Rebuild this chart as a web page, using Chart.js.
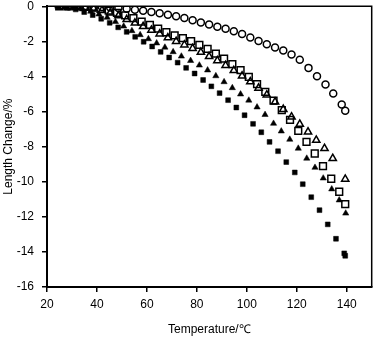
<!DOCTYPE html>
<html lang="en">
<head>
  <meta charset="UTF-8">
  <title>Length Change vs Temperature</title>
  <script src="https://cdn.jsdelivr.net/npm/chart.js@4/dist/chart.umd.min.js"></script>
  <style>
    body {
      margin: 0;
      padding: 0;
      background-color: #ffffff;
    }

    #chartBox {
      position: relative;
      width: 378px;
      height: 338px;
    }
  </style>
</head>
<body>
  <div id="chartBox">
    <canvas id="lengthChart"></canvas>
  </div>

  <script>
    // axis ticks
    const xTicks = [20, 40, 60, 80, 100, 120, 140];
    const yTicks = [0, -2, -4, -6, -8, -10, -12, -14, -16];

    // filled squares
    const sqFilledT = [24.7, 28.1, 31.5, 34.9, 38.3, 41.7, 45.1, 48.5, 51.9, 55.3, 58.7, 62.1, 65.5, 68.9, 72.3, 75.7, 79.1, 82.5, 85.8, 89.1, 92.5, 95.8, 99.1, 102.5, 105.8, 109.1, 112.5, 115.8, 119.2, 122.4, 125.8, 129.1, 132.4, 135.7, 139.0, 139.4];
    const sqFilledY = [0, -0.08, -0.18, -0.33, -0.5, -0.71, -0.94, -1.2, -1.46, -1.74, -2.02, -2.29, -2.6, -2.92, -3.21, -3.51, -3.83, -4.2, -4.56, -4.95, -5.35, -5.77, -6.21, -6.7, -7.18, -7.73, -8.26, -8.88, -9.47, -10.14, -10.88, -11.62, -12.43, -13.25, -14.08, -14.22];

    // filled triangles
    const triFilledT = [24.3, 27.6, 30.9, 34.2, 37.5, 40.8, 44.1, 47.4, 50.7, 54.0, 57.3, 60.6, 63.9, 67.2, 70.5, 73.8, 77.5, 81.0, 84.3, 87.6, 90.9, 94.2, 97.5, 100.8, 104.1, 107.3, 110.7, 113.8, 117.2, 120.6, 124.0, 127.3, 130.6, 134.0, 137.0, 139.6];
    const triFilledY = [0, -0.02, -0.07, -0.16, -0.29, -0.45, -0.64, -0.88, -1.14, -1.4, -1.63, -1.86, -2.1, -2.34, -2.6, -2.85, -3.1, -3.36, -3.64, -3.97, -4.31, -4.65, -5.01, -5.36, -5.75, -6.18, -6.68, -7.12, -7.59, -8.1, -8.67, -9.19, -9.8, -10.42, -11.05, -11.8];

    // open squares
    const sqOpenT = [24.9, 28.2, 31.5, 34.8, 38.1, 41.4, 44.7, 48.0, 51.3, 54.6, 57.9, 61.2, 64.5, 67.8, 71.1, 74.4, 77.7, 81.0, 84.3, 87.6, 90.9, 94.2, 97.5, 100.8, 104.1, 107.4, 110.7, 114.0, 117.3, 120.6, 123.9, 127.2, 130.5, 133.8, 137.0, 139.4];
    const sqOpenY = [0, 0, 0, -0.03, -0.08, -0.15, -0.25, -0.38, -0.52, -0.68, -0.87, -1.06, -1.27, -1.48, -1.66, -1.82, -1.98, -2.2, -2.43, -2.7, -2.98, -3.3, -3.64, -4.02, -4.44, -4.88, -5.38, -5.92, -6.47, -7.1, -7.73, -8.39, -9.11, -9.83, -10.57, -11.28];

    // open triangles
    const triOpenT = [25.5, 28.8, 32.1, 35.4, 38.7, 42.0, 45.3, 48.6, 51.9, 55.2, 58.5, 61.8, 65.1, 68.4, 71.7, 75.0, 78.3, 81.6, 84.9, 88.2, 91.5, 94.8, 98.1, 101.4, 104.7, 108.0, 111.3, 114.6, 117.9, 121.2, 124.5, 127.8, 131.1, 134.4, 139.4];
    const triOpenY = [0, 0, -0.02, -0.06, -0.13, -0.23, -0.37, -0.54, -0.75, -0.95, -1.15, -1.36, -1.57, -1.79, -2.0, -2.2, -2.4, -2.62, -2.86, -3.1, -3.37, -3.66, -3.97, -4.3, -4.66, -5.05, -5.45, -5.87, -6.3, -6.72, -7.16, -7.63, -8.1, -8.67, -9.85];

    // open circles
    const circT = [28.8, 32.1, 35.4, 38.7, 42.0, 45.3, 48.6, 51.9, 55.2, 58.5, 61.8, 65.1, 68.4, 71.7, 75.0, 78.3, 81.6, 84.9, 88.2, 91.5, 94.8, 98.1, 101.4, 104.7, 108.0, 111.3, 114.6, 117.9, 121.2, 124.7, 128.1, 131.5, 134.6, 138.0, 139.4];
    const circY = [0, 0, 0, -0.02, -0.04, -0.07, -0.1, -0.14, -0.2, -0.26, -0.33, -0.4, -0.48, -0.57, -0.67, -0.8, -0.92, -1.04, -1.16, -1.28, -1.42, -1.58, -1.78, -1.98, -2.16, -2.35, -2.52, -2.75, -3.04, -3.51, -3.99, -4.46, -4.97, -5.6, -5.96];

    function toPoints(xs, ys) {
      return xs.map((x, i) => ({ x: x, y: ys[i] }));
    }

    // draws the top and right edges of the plot box
    const frame = {
      id: 'frame',
      afterDraw(chart) {
        const { ctx, chartArea } = chart;
        ctx.save();
        ctx.strokeStyle = '#000';
        ctx.lineWidth = 1.5;
        ctx.beginPath();
        ctx.moveTo(chartArea.left, chartArea.top);
        ctx.lineTo(chartArea.right, chartArea.top);
        ctx.lineTo(chartArea.right, chartArea.bottom);
        ctx.stroke();
        ctx.restore();
      }
    };

    const font = { family: "'Liberation Sans', Arial, sans-serif", size: 12 };

    new Chart(document.getElementById('lengthChart'), {
      type: 'scatter',
      data: {
        datasets: [{
          data: toPoints(circT, circY),
          pointStyle: 'circle',
          pointRadius: 3.5,
          borderColor: '#000',
          backgroundColor: 'rgba(0,0,0,0)',
          pointBorderWidth: 1.5
        }, {
          data: toPoints(sqOpenT, sqOpenY),
          pointStyle: 'rect',
          pointRadius: 4.8,
          borderColor: '#000',
          backgroundColor: 'rgba(0,0,0,0)',
          pointBorderWidth: 1.5
        }, {
          data: toPoints(triOpenT, triOpenY),
          pointStyle: 'triangle',
          pointRadius: 4.2,
          borderColor: '#000',
          backgroundColor: 'rgba(0,0,0,0)',
          pointBorderWidth: 1.5
        }, {
          data: toPoints(triFilledT, triFilledY),
          pointStyle: 'triangle',
          pointRadius: 3.6,
          borderColor: '#000',
          backgroundColor: '#000',
          pointBorderWidth: 0.5
        }, {
          data: toPoints(sqFilledT, sqFilledY),
          pointStyle: 'rect',
          pointRadius: 3.4,
          borderColor: '#000',
          backgroundColor: '#000',
          pointBorderWidth: 0.5
        }]
      },
      options: {
        responsive: true,
        maintainAspectRatio: false,
        animation: false,
        layout: { padding: { top: 6, right: 4, left: 0, bottom: 0 } },
        plugins: {
          legend: { display: false },
          tooltip: { enabled: false }
        },
        scales: {
          x: {
            type: 'linear',
            min: 20,
            max: 150,
            afterBuildTicks: (scale) => { scale.ticks = xTicks.map(v => ({ value: v })); },
            afterFit: (scale) => {
              scale.height = 51;
              scale.paddingLeft = 0;
              scale.paddingRight = 0;
            },
            grid: { display: true, drawOnChartArea: false, drawTicks: true, tickLength: 5, color: '#000', lineWidth: 1.5 },
            border: { display: true, color: '#000', width: 2 },
            ticks: { color: '#000', font: font, padding: 5, maxRotation: 0, callback: (v) => String(v) },
            title: { display: true, text: 'Temperature/℃', color: '#000', font: font, padding: { top: 0, bottom: 1 } }
          },
          y: {
            type: 'linear',
            min: -16,
            max: 0,
            afterBuildTicks: (scale) => { scale.ticks = yTicks.map(v => ({ value: v })); },
            afterFit: (scale) => {
              scale.width = 47;
              scale.paddingTop = 0;
              scale.paddingBottom = 0;
            },
            grid: { display: true, drawOnChartArea: false, drawTicks: true, tickLength: 5, color: '#000', lineWidth: 1.5 },
            border: { display: true, color: '#000', width: 2 },
            ticks: { color: '#000', font: font, padding: 8, callback: (v) => String(v) },
            title: { display: true, text: 'Length Change/%', color: '#000', font: font, padding: { top: 1, bottom: 0 } }
          }
        }
      },
      plugins: [frame]
    });
  </script>
</body>
</html>
